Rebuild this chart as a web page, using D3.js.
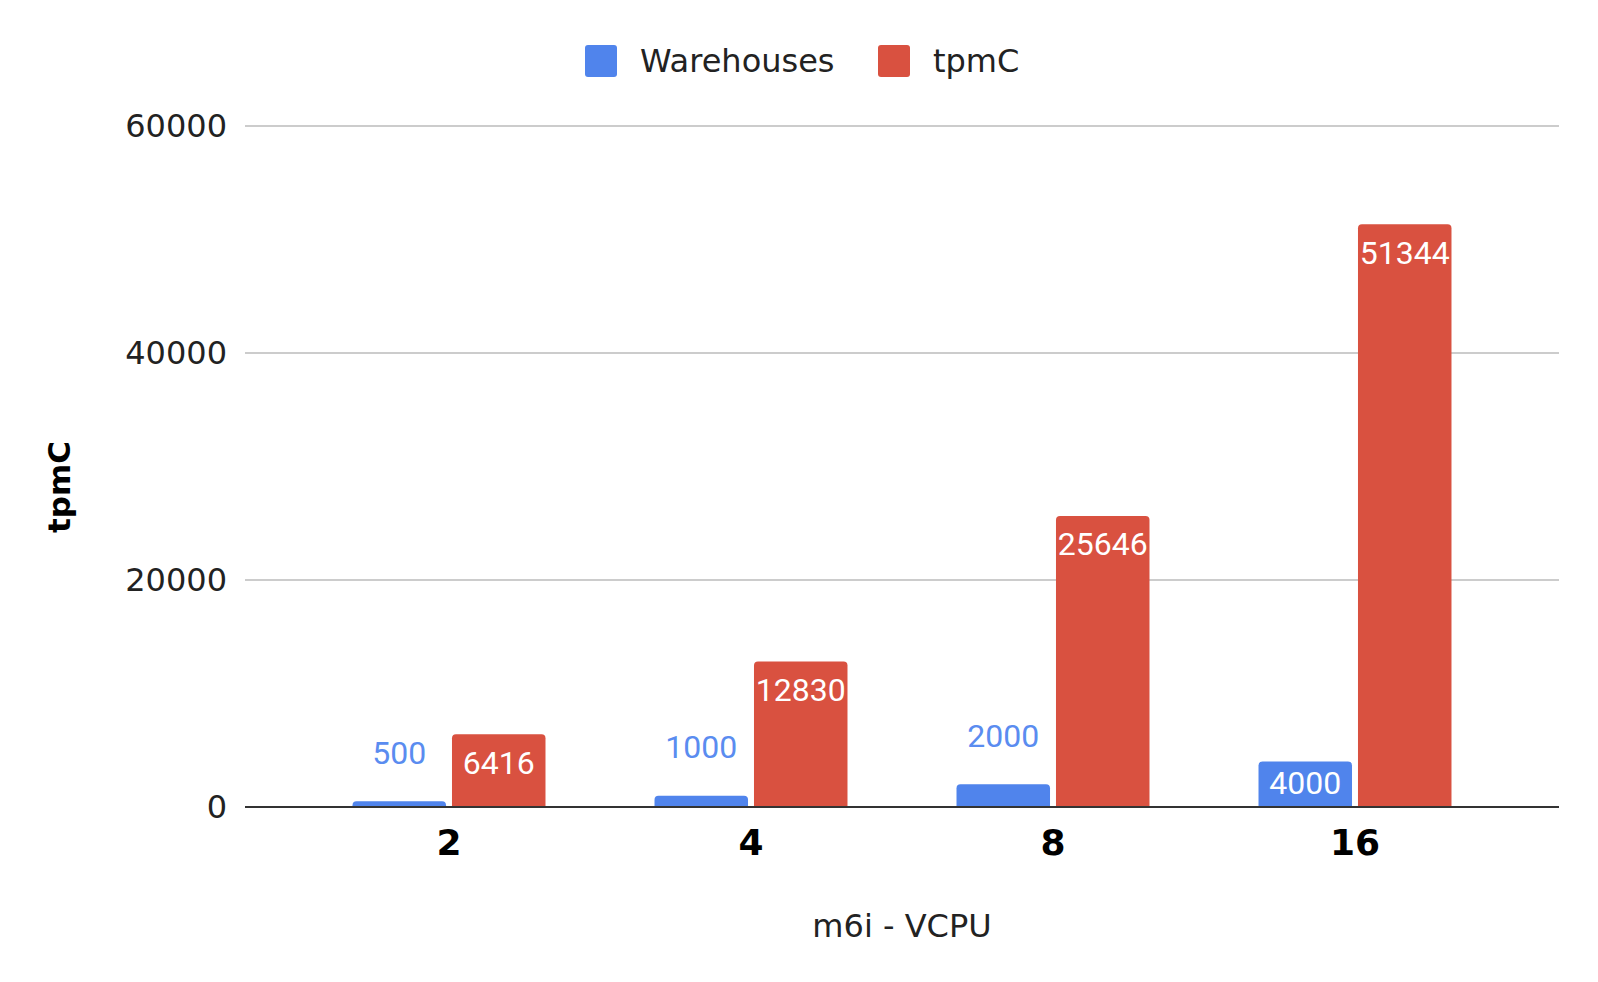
<!DOCTYPE html>
<html>
<head>
<meta charset="utf-8">
<script src="https://cdn.jsdelivr.net/npm/d3@7"></script>
<style>
  html, body { margin: 0; padding: 0; background: #fff; }
  svg { display: block; }
</style>
</head>
<body>
<svg id="chart" width="1598" height="982"></svg>
<script>
// ---- data ----
const categories = ["2", "4", "8", "16"];
const seriesNames = ["Warehouses", "tpmC"];
const warehouses = [500, 1000, 2000, 4000];
const tpmC = [6416, 12830, 25646, 51344];
const yTicks = [0, 20000, 40000, 60000];
const colors = ["#5084ec", "#d95140"];
const labelColors = ["#5a8cf0", "#ffffff"];

const seriesValues = [warehouses, tpmC];

(function () {
const svg = d3.select("#chart");
const plotLeft = 245, plotRight = 1559, plotTop = 126, plotBottom = 807;

const y = d3.scaleLinear().domain([0, 60000]).range([plotBottom, plotTop]);
const x0 = d3.scaleBand().domain(categories).range([plotLeft, plotRight])
  .paddingInner(0.361).paddingOuter(0.356);
const x1 = d3.scaleBand().domain(seriesNames).range([0, x0.bandwidth()])
  .paddingInner(0.06).paddingOuter(0);

// gridlines
const gridG = svg.append("g");
gridG.selectAll("line").data(yTicks.filter(d => d !== 0)).join("line")
  .attr("x1", plotLeft).attr("x2", plotRight)
  .attr("y1", d => y(d)).attr("y2", d => y(d))
  .attr("stroke", "#cccccc").attr("stroke-width", 2);

// y-axis tick labels
const yAxis = d3.axisLeft(y).tickValues(yTicks).tickSize(0).tickPadding(18).tickFormat(d3.format("d"));
const yg = svg.append("g").attr("transform", `translate(${plotLeft},0)`).call(yAxis);
yg.select(".domain").remove();
yg.selectAll("text")
  .attr("font-family", "DejaVu Sans").attr("font-size", 32).attr("fill", "#222")
  .attr("dy", "0.33em");

// bars
const data = [];
categories.forEach((c, i) => {
  seriesNames.forEach((s, j) => {
    data.push({ cat: c, series: s, j, value: seriesValues[j][i] });
  });
});

function barPath(x, yTop, w, yBot, r) {
  const h = yBot - yTop;
  r = Math.min(r, h, w / 2);
  return `M${x},${yBot}V${yTop + r}Q${x},${yTop} ${x + r},${yTop}H${x + w - r}Q${x + w},${yTop} ${x + w},${yTop + r}V${yBot}Z`;
}

const defs = svg.append("defs");
const barsG = svg.append("g");
data.forEach((d, k) => {
  const bx = x0(d.cat) + x1(d.series);
  const bw = x1.bandwidth();
  const by = y(d.value);
  const bh = plotBottom - by;
  barsG.append("path")
    .attr("d", barPath(bx, by, bw, plotBottom, 4))
    .attr("fill", colors[d.j]);

  defs.append("clipPath").attr("id", "clip" + k)
    .append("rect").attr("x", bx).attr("y", by).attr("width", bw).attr("height", bh);

  const inside = bh > 40;
  const cx = bx + bw / 2;
  let cy;
  if (inside) {
    cy = by + Math.min(28, bh / 2 - 2);
  } else {
    cy = by - 49;
  }
  const t = barsG.append("text")
    .attr("x", cx).attr("y", cy).attr("dy", "0.36em")
    .attr("text-anchor", "middle")
    .attr("font-family", "Roboto").attr("font-size", 32)
    .attr("fill", inside ? "#ffffff" : labelColors[0])
    .text(d.value);
  if (inside) t.attr("clip-path", `url(#clip${k})`);
});

// baseline
svg.append("line")
  .attr("x1", plotLeft).attr("x2", plotRight)
  .attr("y1", y(0)).attr("y2", y(0))
  .attr("stroke", "#333").attr("stroke-width", 2);

// x-axis category labels
const xAxis = d3.axisBottom(x0).tickSize(0).tickPadding(0);
const xg = svg.append("g").attr("transform", `translate(0,${plotBottom})`).call(xAxis);
xg.select(".domain").remove();
xg.selectAll("text")
  .attr("font-family", "DejaVu Sans").attr("font-weight", "bold")
  .attr("font-size", 36).attr("fill", "#000")
  .attr("dy", null).attr("y", 48);

// axis titles
svg.append("text")
  .attr("x", (plotLeft + plotRight) / 2).attr("y", 937)
  .attr("text-anchor", "middle")
  .attr("font-family", "DejaVu Sans").attr("font-size", 32).attr("fill", "#222")
  .text("m6i - VCPU");

svg.append("text")
  .attr("transform", "translate(70,487) rotate(-90)")
  .attr("text-anchor", "middle")
  .attr("font-family", "DejaVu Sans").attr("font-weight", "bold")
  .attr("font-size", 31).attr("fill", "#000")
  .text("tpmC");

// legend
const legendItems = [
  { name: seriesNames[0], color: colors[0], sx: 585, tx: 640 },
  { name: seriesNames[1], color: colors[1], sx: 878, tx: 933 }
];
const lg = svg.append("g");
legendItems.forEach(it => {
  lg.append("rect").attr("x", it.sx).attr("y", 45).attr("width", 32).attr("height", 32)
    .attr("rx", 3).attr("fill", it.color);
  lg.append("text").attr("x", it.tx).attr("y", 72)
    .attr("font-family", "DejaVu Sans").attr("font-size", 32).attr("fill", "#222")
    .text(it.name);
});
})();
</script>
</body>
</html>
